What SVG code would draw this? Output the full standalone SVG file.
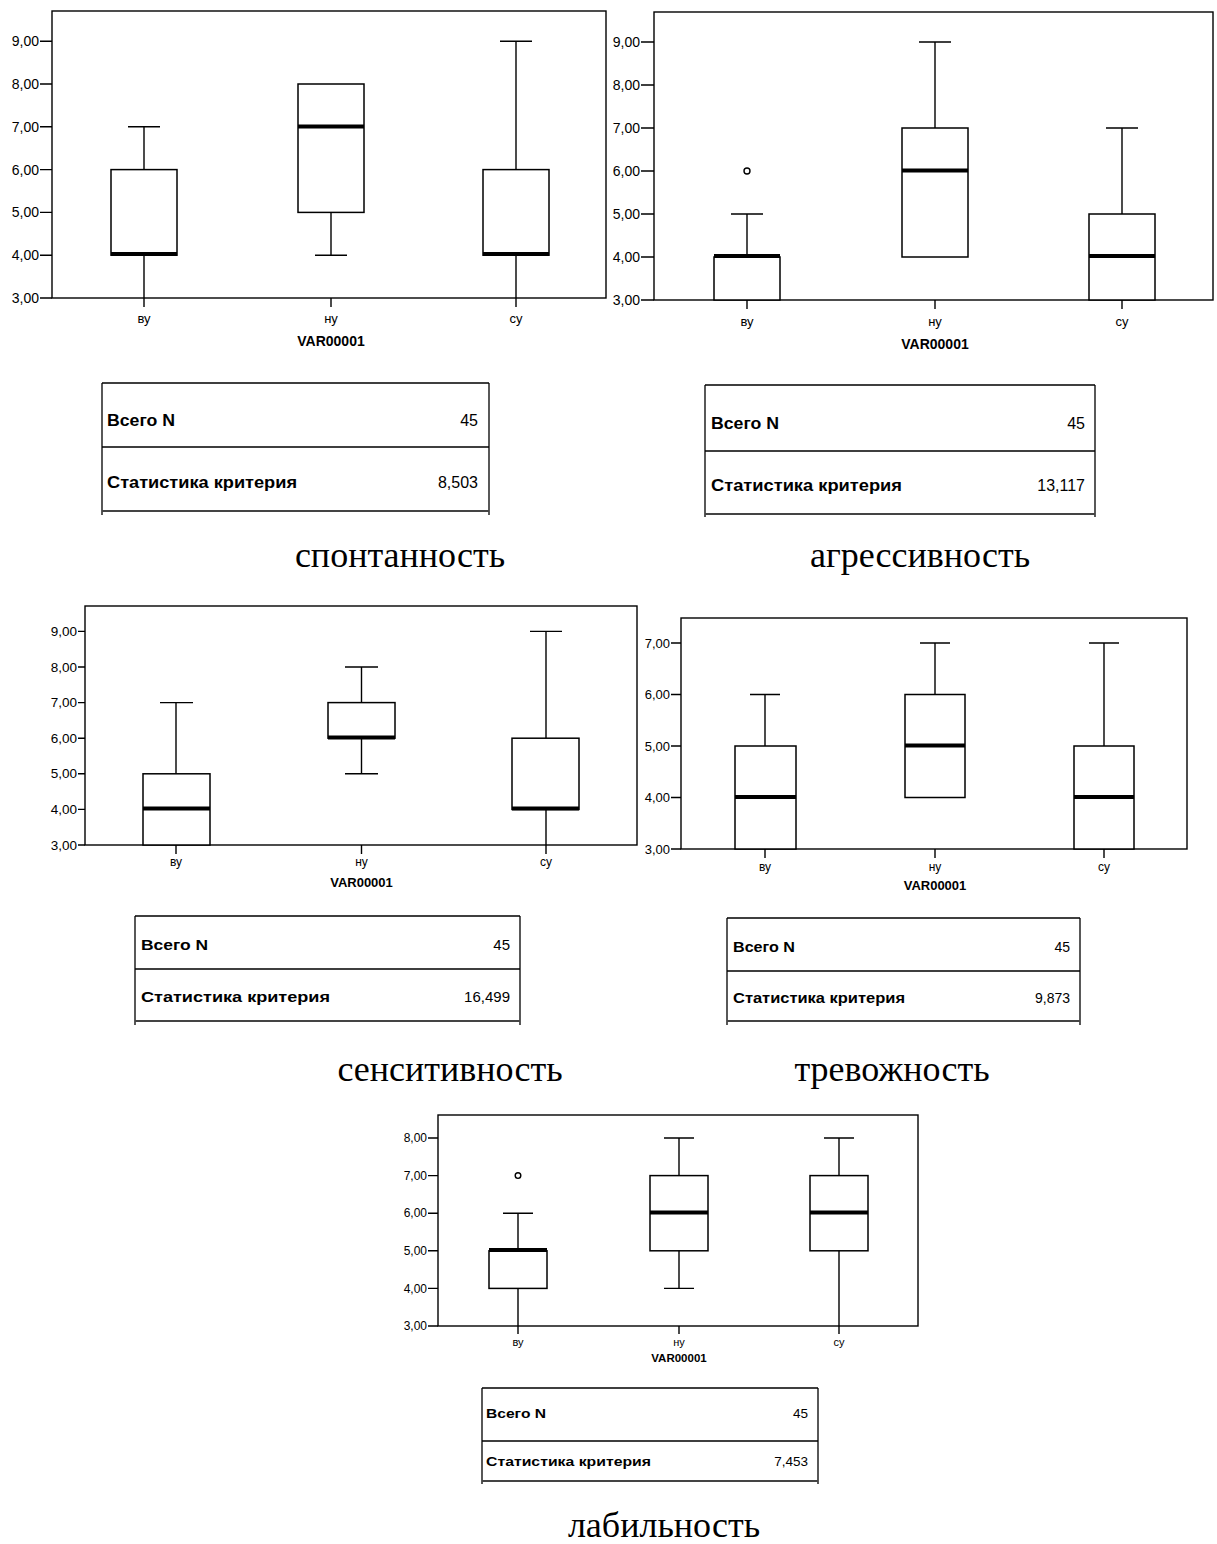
<svg xmlns="http://www.w3.org/2000/svg" width="1217" height="1544" viewBox="0 0 1217 1544">
<style>
.bg{fill:#fff}
.frame{fill:none;stroke:#000;stroke-width:1.4}
.box{fill:#fff;stroke:#000;stroke-width:1.5}
.ln{stroke:#000;stroke-width:1.4;fill:none}
.med{stroke:#000;stroke-width:4}
.out{fill:#fff;stroke:#000;stroke-width:1.4}
.yl{font-family:"Liberation Sans",Arial,sans-serif;text-anchor:end;fill:#000}
.cl{font-family:"Liberation Sans",Arial,sans-serif;text-anchor:middle;fill:#000}
.vt{font-family:"Liberation Sans",Arial,sans-serif;text-anchor:middle;font-weight:bold;fill:#000}
.tb{font-family:"Liberation Sans",Arial,sans-serif;font-weight:bold;fill:#000}
.tv{font-family:"Liberation Sans",Arial,sans-serif;text-anchor:end;fill:#000}
.tl{stroke:#000;stroke-width:1.3;fill:none}
.tlb{stroke:#444;stroke-width:2;fill:none}
.cap{font-family:"Liberation Serif","Times New Roman",serif;text-anchor:middle;fill:#000}
</style>
<rect class="bg" x="0" y="0" width="1217" height="1544"/>

<!-- Chart 1: спонтанность -->
<g id="chart1">
<rect class="frame" x="52" y="11" width="554" height="287"/>
<g class="ln">
<path d="M40 41.2H52M40 84H52M40 126.8H52M40 169.6H52M40 212.4H52M40 255.2H52M40 298H52"/>
<path d="M144 298V307M331 298V307M516 298V307"/>
</g>
<g class="yl" font-size="14">
<text x="39" y="46">9,00</text><text x="39" y="89">8,00</text><text x="39" y="132">7,00</text><text x="39" y="175">6,00</text><text x="39" y="217">5,00</text><text x="39" y="260">4,00</text><text x="39" y="303">3,00</text>
</g>
<!-- ву -->
<path class="ln" d="M144 169.6V126.8M128 126.8H160M144 255.2V298"/>
<rect class="box" x="111" y="169.6" width="66" height="85.6"/>
<line class="med" x1="111" y1="254" x2="177" y2="254"/>
<!-- ну -->
<path class="ln" d="M331 212.4V255.2M315 255.2H347"/>
<rect class="box" x="298" y="84" width="66" height="128.4"/>
<line class="med" x1="298" y1="126.5" x2="364" y2="126.5"/>
<!-- су -->
<path class="ln" d="M516 169.6V41.2M500 41.2H532M516 255.2V298"/>
<rect class="box" x="483" y="169.6" width="66" height="85.6"/>
<line class="med" x1="483" y1="254" x2="549" y2="254"/>
<g class="cl" font-size="13">
<text x="144" y="323">ву</text><text x="331" y="323">ну</text><text x="516" y="323">су</text>
</g>
<text class="vt" x="331" y="346" font-size="14">VAR00001</text>
</g>

<!-- Chart 2: агрессивность -->
<g id="chart2">
<rect class="frame" x="654" y="12" width="559" height="288"/>
<g class="ln">
<path d="M641 42H654M641 85H654M641 128H654M641 171H654M641 214H654M641 257H654M641 300H654"/>
<path d="M747 300V309M935 300V309M1122 300V309"/>
</g>
<g class="yl" font-size="14">
<text x="640" y="47">9,00</text><text x="640" y="90">8,00</text><text x="640" y="133">7,00</text><text x="640" y="176">6,00</text><text x="640" y="219">5,00</text><text x="640" y="262">4,00</text><text x="640" y="305">3,00</text>
</g>
<!-- ву -->
<path class="ln" d="M747 257V214M731 214H763"/>
<rect class="box" x="714" y="257" width="66" height="43"/>
<line class="med" x1="714" y1="256" x2="780" y2="256"/>
<circle class="out" cx="747" cy="171" r="3"/>
<!-- ну -->
<path class="ln" d="M935 128V42M919 42H951"/>
<rect class="box" x="902" y="128" width="66" height="129"/>
<line class="med" x1="902" y1="170.5" x2="968" y2="170.5"/>
<!-- су -->
<path class="ln" d="M1122 214V128M1106 128H1138"/>
<rect class="box" x="1089" y="214" width="66" height="86"/>
<line class="med" x1="1089" y1="256" x2="1155" y2="256"/>
<g class="cl" font-size="13">
<text x="747" y="326">ву</text><text x="935" y="326">ну</text><text x="1122" y="326">су</text>
</g>
<text class="vt" x="935" y="349" font-size="14">VAR00001</text>
</g>

<!-- Table 1 -->
<g id="table1">
<path class="tl" d="M102 383H489M102 447H489M102 383V515M489 383V515"/>
<path class="tlb" d="M102 511H489"/>
<text class="tb" x="107" y="426" font-size="16" textLength="68" lengthAdjust="spacingAndGlyphs">Всего N</text>
<text class="tv" x="478" y="426" font-size="16">45</text>
<text class="tb" x="107" y="488" font-size="16" textLength="190" lengthAdjust="spacingAndGlyphs">Статистика критерия</text>
<text class="tv" x="478" y="488" font-size="16">8,503</text>
</g>

<!-- Table 2 -->
<g id="table2">
<path class="tl" d="M705 385H1095M705 451H1095M705 385V517M1095 385V517"/>
<path class="tlb" d="M705 514H1095"/>
<text class="tb" x="711" y="429" font-size="16" textLength="68" lengthAdjust="spacingAndGlyphs">Всего N</text>
<text class="tv" x="1085" y="429" font-size="16">45</text>
<text class="tb" x="711" y="491" font-size="16" textLength="191" lengthAdjust="spacingAndGlyphs">Статистика критерия</text>
<text class="tv" x="1085" y="491" font-size="16">13,117</text>
</g>

<text class="cap" x="400" y="567" font-size="36">спонтанность</text>
<text class="cap" x="920" y="567" font-size="36">агрессивность</text>

<!-- Chart 3: сенситивность -->
<g id="chart3">
<rect class="frame" x="85" y="606" width="552" height="239"/>
<g class="ln">
<path d="M78 631.4H85M78 667H85M78 702.6H85M78 738.2H85M78 773.8H85M78 809.4H85M78 845H85"/>
<path d="M176 845V854M361.5 845V854M546 845V854"/>
</g>
<g class="yl" font-size="13.5">
<text x="77" y="636">9,00</text><text x="77" y="672">8,00</text><text x="77" y="707">7,00</text><text x="77" y="743">6,00</text><text x="77" y="778">5,00</text><text x="77" y="814">4,00</text><text x="77" y="850">3,00</text>
</g>
<!-- ву -->
<path class="ln" d="M176 773.8V702.6M160 702.6H193"/>
<rect class="box" x="143" y="773.8" width="67" height="71.2"/>
<line class="med" x1="143" y1="808.5" x2="210" y2="808.5"/>
<!-- ну -->
<path class="ln" d="M361.5 702.6V667M345 667H378M361.5 738.2V773.8M345 773.8H378"/>
<rect class="box" x="328" y="702.6" width="67" height="35.6"/>
<line class="med" x1="328" y1="737.5" x2="395" y2="737.5"/>
<!-- су -->
<path class="ln" d="M546 738.2V631.4M530 631.4H562M546 809.4V845"/>
<rect class="box" x="512" y="738.2" width="67" height="71.2"/>
<line class="med" x1="512" y1="808.5" x2="579" y2="808.5"/>
<g class="cl" font-size="12">
<text x="176" y="866">ву</text><text x="361.5" y="866">ну</text><text x="546" y="866">су</text>
</g>
<text class="vt" x="361.5" y="887" font-size="13">VAR00001</text>
</g>

<!-- Chart 4: тревожность -->
<g id="chart4">
<rect class="frame" x="681" y="618" width="506" height="231"/>
<g class="ln">
<path d="M671 643H681M671 694.5H681M671 746H681M671 797.5H681M671 849H681"/>
<path d="M765 849V858M935 849V858M1104 849V858"/>
</g>
<g class="yl" font-size="13">
<text x="670" y="648">7,00</text><text x="670" y="699">6,00</text><text x="670" y="751">5,00</text><text x="670" y="802">4,00</text><text x="670" y="854">3,00</text>
</g>
<!-- ву -->
<path class="ln" d="M765 746V694.5M750 694.5H780"/>
<rect class="box" x="735" y="746" width="61" height="103"/>
<line class="med" x1="735" y1="797" x2="796" y2="797"/>
<!-- ну -->
<path class="ln" d="M935 694.5V643M920 643H950"/>
<rect class="box" x="905" y="694.5" width="60" height="103"/>
<line class="med" x1="905" y1="745.5" x2="965" y2="745.5"/>
<!-- су -->
<path class="ln" d="M1104 746V643M1089 643H1119"/>
<rect class="box" x="1074" y="746" width="60" height="103"/>
<line class="med" x1="1074" y1="797" x2="1134" y2="797"/>
<g class="cl" font-size="12">
<text x="765" y="871">ву</text><text x="935" y="871">ну</text><text x="1104" y="871">су</text>
</g>
<text class="vt" x="935" y="890" font-size="13">VAR00001</text>
</g>

<!-- Table 3 -->
<g id="table3">
<path class="tl" d="M135 916H520M135 969H520M135 916V1025M520 916V1025"/>
<path class="tlb" d="M135 1021H520"/>
<text class="tb" x="141" y="950" font-size="15" textLength="67" lengthAdjust="spacingAndGlyphs">Всего N</text>
<text class="tv" x="510" y="950" font-size="15">45</text>
<text class="tb" x="141" y="1002" font-size="15" textLength="189" lengthAdjust="spacingAndGlyphs">Статистика критерия</text>
<text class="tv" x="510" y="1002" font-size="15">16,499</text>
</g>

<!-- Table 4 -->
<g id="table4">
<path class="tl" d="M727 918H1080M727 971H1080M727 918V1025M1080 918V1025"/>
<path class="tlb" d="M727 1021H1080"/>
<text class="tb" x="733" y="952" font-size="14" textLength="62" lengthAdjust="spacingAndGlyphs">Всего N</text>
<text class="tv" x="1070" y="952" font-size="14">45</text>
<text class="tb" x="733" y="1003" font-size="14" textLength="172" lengthAdjust="spacingAndGlyphs">Статистика критерия</text>
<text class="tv" x="1070" y="1003" font-size="14">9,873</text>
</g>

<text class="cap" x="450" y="1081" font-size="36">сенситивность</text>
<text class="cap" x="892" y="1081" font-size="36">тревожность</text>

<!-- Chart 5: лабильность -->
<g id="chart5">
<rect class="frame" x="438" y="1115" width="480" height="211"/>
<g class="ln">
<path d="M428 1138H438M428 1175.6H438M428 1213.2H438M428 1250.8H438M428 1288.4H438M428 1326H438"/>
<path d="M518 1326V1334M679 1326V1334M839 1326V1334"/>
</g>
<g class="yl" font-size="12">
<text x="427" y="1142">8,00</text><text x="427" y="1180">7,00</text><text x="427" y="1217">6,00</text><text x="427" y="1255">5,00</text><text x="427" y="1293">4,00</text><text x="427" y="1330">3,00</text>
</g>
<!-- ву -->
<path class="ln" d="M518 1250.8V1213.2M503 1213.2H533M518 1288.4V1326"/>
<rect class="box" x="489" y="1250.8" width="58" height="37.6"/>
<line class="med" x1="489" y1="1250" x2="547" y2="1250"/>
<circle class="out" cx="518" cy="1175.6" r="2.8"/>
<!-- ну -->
<path class="ln" d="M679 1175.6V1138M664 1138H694M679 1250.8V1288.4M664 1288.4H694"/>
<rect class="box" x="650" y="1175.6" width="58" height="75.2"/>
<line class="med" x1="650" y1="1212.5" x2="708" y2="1212.5"/>
<!-- су -->
<path class="ln" d="M839 1175.6V1138M824 1138H854M839 1250.8V1326"/>
<rect class="box" x="810" y="1175.6" width="58" height="75.2"/>
<line class="med" x1="810" y1="1212.5" x2="868" y2="1212.5"/>
<g class="cl" font-size="11">
<text x="518" y="1346">ву</text><text x="679" y="1346">ну</text><text x="839" y="1346">су</text>
</g>
<text class="vt" x="679" y="1362" font-size="11.5">VAR00001</text>
</g>

<!-- Table 5 -->
<g id="table5">
<path class="tl" d="M482 1388H818M482 1441H818M482 1388V1484M818 1388V1484"/>
<path class="tlb" d="M482 1481H818"/>
<text class="tb" x="486" y="1418" font-size="13.5" textLength="60" lengthAdjust="spacingAndGlyphs">Всего N</text>
<text class="tv" x="808" y="1418" font-size="13.5">45</text>
<text class="tb" x="486" y="1466" font-size="13.5" textLength="165" lengthAdjust="spacingAndGlyphs">Статистика критерия</text>
<text class="tv" x="808" y="1466" font-size="13.5">7,453</text>
</g>

<text class="cap" x="664" y="1537" font-size="36">лабильность</text>
</svg>
